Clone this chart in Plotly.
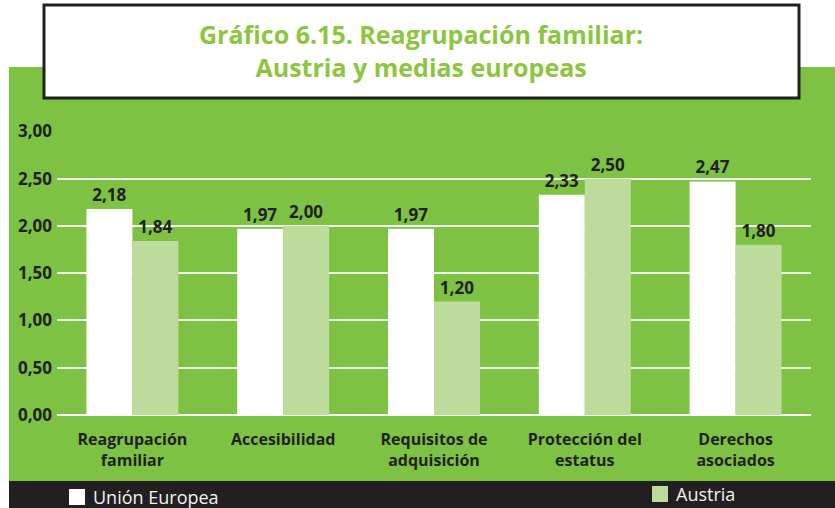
import plotly.graph_objects as go

categorias = ["Reagrupación<br>familiar", "Accesibilidad", "Requisitos de<br>adquisición",
              "Protección del<br>estatus", "Derechos<br>asociados"]
union_europea = [2.18, 1.97, 1.97, 2.33, 2.47]
austria = [1.84, 2.00, 1.20, 2.50, 1.80]
ticks_y = [0, 0.5, 1.0, 1.5, 2.0, 2.5, 3.0]

VERDE = "#7dc243"
VERDE_CLARO = "#bddc9c"
OSCURO = "#231f20"
FUENTE = "Open Sans"

W, H = 835, 508
L, R, T, B = 57, 24, 131, 93
pw, ph = W - L - R, H - T - B


def px(x):
    return (x - L) / pw


def py(y):
    return (H - B - y) / ph


fig = go.Figure()
fig.add_trace(go.Bar(x=categorias, y=union_europea, name="Unión Europea",
                     marker=dict(color="white", line_width=0),
                     texttemplate="%{y:.2f}", textposition="outside",
                     textfont=dict(family=FUENTE, size=17, color=OSCURO, weight=700)))
fig.add_trace(go.Bar(x=categorias, y=austria, name="Austria",
                     marker=dict(color=VERDE_CLARO, line_width=0),
                     texttemplate="%{y:.2f}", textposition="outside",
                     textfont=dict(family=FUENTE, size=17, color=OSCURO, weight=700)))

# fondo verde, franja negra inferior y recuadro del titulo
fig.add_shape(type="rect", xref="paper", yref="paper", layer="below",
              x0=px(9), x1=px(836), y0=py(481), y1=py(67),
              fillcolor=VERDE, line_width=0)
fig.add_shape(type="rect", xref="paper", yref="paper", layer="below",
              x0=px(9), x1=px(836), y0=py(510), y1=py(481),
              fillcolor=OSCURO, line_width=0)
fig.add_shape(type="rect", xref="paper", yref="paper", layer="below",
              x0=px(44), x1=px(799), y0=py(98), y1=py(5),
              fillcolor="white", line=dict(color=OSCURO, width=3))

fig.add_annotation(xref="paper", yref="paper", x=px(421), y=py(51),
                   text="Gráfico 6.15. Reagrupación familiar:<br>Austria y medias europeas",
                   showarrow=False, xanchor="center", yanchor="middle",
                   font=dict(family=FUENTE, size=25, color="#8cc63f", weight=700))

# leyenda dibujada a mano en la franja negra
leyenda = [("Unión Europea", "white", 69, 489), ("Austria", VERDE_CLARO, 652, 486)]
for nombre, color, lx, ly in leyenda:
    fig.add_shape(type="rect", xref="paper", yref="paper",
                  x0=px(lx), x1=px(lx + 16), y0=py(ly + 16), y1=py(ly),
                  fillcolor=color, line_width=0)
    fig.add_annotation(xref="paper", yref="paper", x=px(lx + 22), y=py(ly + 8),
                       text=nombre, showarrow=False, xanchor="left", yanchor="middle",
                       font=dict(family=FUENTE, size=18, color="#f2f2f2"))

fig.update_layout(
    width=W, height=H,
    margin=dict(l=L, r=R, t=T, b=B),
    paper_bgcolor="white", plot_bgcolor=VERDE,
    separators=",.",
    barmode="group", bargap=0.39, bargroupgap=0,
    font=dict(family=FUENTE, color=OSCURO),
    showlegend=False,
)
fig.update_yaxes(range=[0, 3.004], tickvals=ticks_y, tickformat=".2f",
                 showgrid=True, gridcolor="rgba(255,255,255,0.9)", gridwidth=1.5,
                 zeroline=True, zerolinecolor="white", zerolinewidth=1.5,
                 showline=False, ticks="", ticklabelstandoff=4,
                 tickfont=dict(family=FUENTE, size=17, color=OSCURO, weight=700))
fig.update_xaxes(showgrid=False, showline=False, ticks="", ticklabelstandoff=13,
                 tickfont=dict(family=FUENTE, size=16, color=OSCURO, weight=700))

# sin el margen por defecto del body, la figura llena la ventana
fig.write_html("out.html", config={"displayModeBar": False},
               post_script="document.body.style.margin='0';")
